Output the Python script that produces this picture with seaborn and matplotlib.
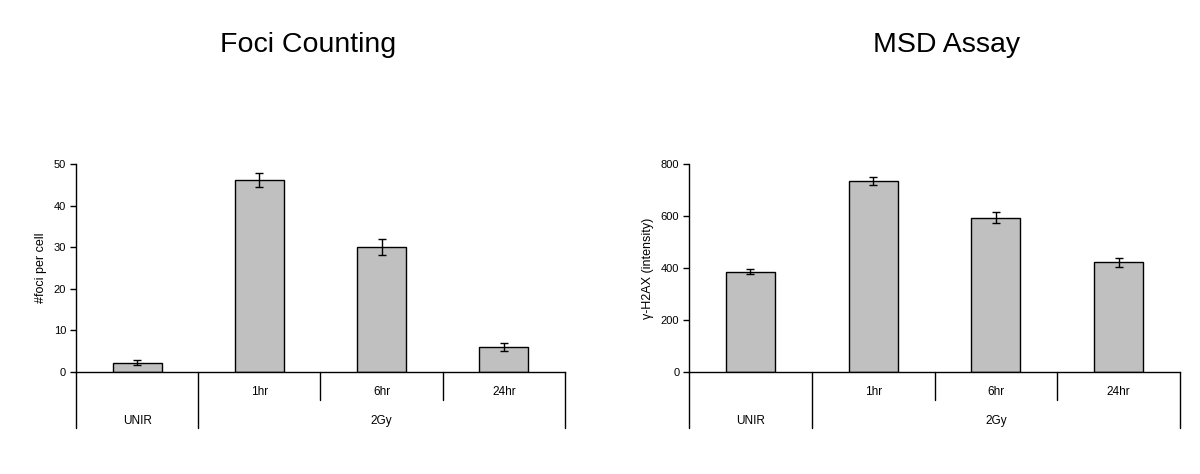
import matplotlib
matplotlib.use("Agg")
import matplotlib.pyplot as plt
import pandas as pd
import seaborn as sns

# datos
conditions = ["UNIR", "1hr", "6hr", "24hr"]
groups = ["UNIR", "2Gy"]
foci_mean = [2.2, 46.2, 30.0, 5.9]
foci_err = [0.5, 1.7, 2.0, 0.9]
msd_mean = [385, 734, 593, 422]
msd_err = [10, 16, 21, 18]

sns.set_style("ticks")
plt.rcParams['font.family'] = ['Liberation Sans', 'DejaVu Sans']
plt.rcParams['text.color'] = 'black'
plt.rcParams['axes.labelcolor'] = 'black'
plt.rcParams['ytick.color'] = 'black'

fig = plt.figure(figsize=(12, 4.74), dpi=100)
ax1 = fig.add_axes([0.0633, 0.2158, 0.4075, 0.4380])
ax2 = fig.add_axes([0.5742, 0.2158, 0.4092, 0.4380])

paneles = [
    (ax1, foci_mean, foci_err, "#foci per cell", "Foci Counting", 50, [0, 10, 20, 30, 40, 50], 0.2567),
    (ax2, msd_mean, msd_err, "γ-H2AX (intensity)", "MSD Assay", 800, [0, 200, 400, 600, 800], 0.789),
]

for ax, medias, errs, ylab, titulo, ymax, yt, tx in paneles:
    df = pd.DataFrame({"cond": conditions, "val": medias})
    sns.barplot(data=df, x="cond", y="val", ax=ax, color="#c0c0c0",
                saturation=1, width=0.4, edgecolor="black", linewidth=1)
    ax.errorbar(range(len(conditions)), medias, yerr=errs, fmt="none",
                ecolor="black", elinewidth=1, capsize=3, capthick=1)
    ax.set_xlim(-0.5, len(conditions) - 0.5)
    ax.set_ylim(0, ymax)
    ax.set_yticks(yt)
    ax.tick_params(axis="y", labelsize=8, length=4, width=1, pad=3)
    ax.set_xticks([])
    ax.set_xlabel("")
    ax.set_ylabel(ylab, fontsize=9, labelpad=5)
    for s in ["top", "right"]:
        ax.spines[s].set_visible(False)
    for s in ["left", "bottom"]:
        ax.spines[s].set_linewidth(1)
        ax.spines[s].set_color("black")

    # ejes jerarquicos debajo
    trans = ax.get_xaxis_transform()
    n = len(conditions)
    for xs in [-0.5, 0.5, n - 0.5]:
        ax.plot([xs, xs], [-0.271, 0], color="black", lw=1, transform=trans, clip_on=False)
    for xs in [1.5, 2.5]:
        ax.plot([xs, xs], [-0.136, 0], color="black", lw=1, transform=trans, clip_on=False)
    for i, c in enumerate(conditions[1:], start=1):
        ax.text(i, -0.098, c, transform=trans, ha="center", va="center", fontsize=8.5)
    ax.text(0, -0.237, groups[0], transform=trans, ha="center", va="center", fontsize=8.5)
    ax.text((1 + n - 1) / 2, -0.237, groups[1], transform=trans, ha="center", va="center", fontsize=8.5)

    fig.text(tx, 0.891, titulo, ha="center", va="baseline", fontsize=20.5)

fig.savefig("out.png", dpi=100, facecolor="white")
